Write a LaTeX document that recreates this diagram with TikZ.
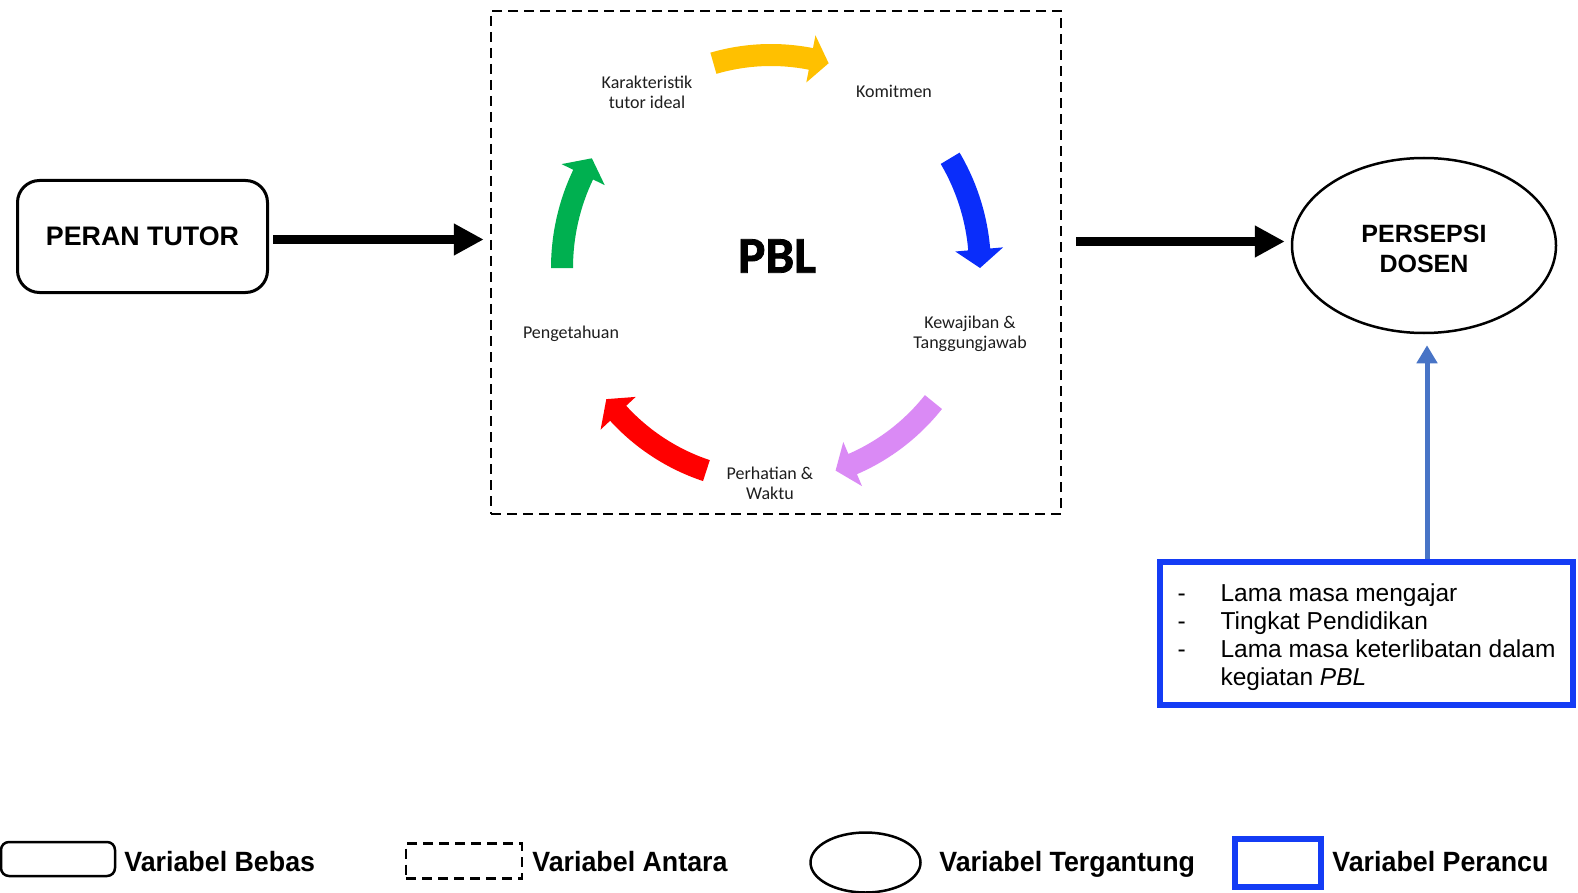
\documentclass[tikz,border=0pt]{standalone}
\usepackage{fontspec}
\setmainfont{Liberation Sans}
\newfontfamily\cyclefont{Carlito}
\newfontfamily\pblfont{Carlito}[FakeBold=1.5]
\usetikzlibrary{arrows.meta,shapes.geometric}

\definecolor{arrYellow}{RGB}{255,192,0}
\definecolor{arrBlue}{RGB}{10,45,250}
\definecolor{arrViolet}{RGB}{218,138,245}
\definecolor{arrRed}{RGB}{255,0,0}
\definecolor{arrGreen}{RGB}{0,176,80}
\definecolor{confBlue}{RGB}{20,60,245}
\definecolor{linkBlue}{RGB}{72,116,198}
\definecolor{labelGrey}{RGB}{30,30,30}

% curved block arrow of the PBL cycle: colour, start angle, tip angle
% (centre line on an ellipse of radii 209 and 213)
\newcommand\cyclearrow[3]{%
  \pgfmathsetmacro\caHead{#3-5}%
  \fill[#1] (#2:220 and 224) arc[start angle=#2, end angle=\caHead, x radius=220, y radius=224]
    -- (\caHead:233 and 237) -- (#3:209 and 213) -- (\caHead:185 and 189) -- (\caHead:198 and 202)
    arc[start angle=\caHead, end angle=#2, x radius=198, y radius=202] -- cycle;}

\begin{document}
\begin{tikzpicture}[x=0.5pt,y=-0.5pt,
  varbox/.style={draw, line width=1.5pt, rounded corners=11pt, minimum width=125pt,
    minimum height=56pt, inner sep=0pt, font=\fontsize{13.4}{16}\selectfont\bfseries},
  midbox/.style={draw, line width=1.25pt, dash pattern=on 5pt off 3pt, inner sep=0pt},
  depell/.style={draw, ellipse, line width=1.25pt, inner sep=0pt},
  confbox/.style={draw=confBlue, line width=3pt, inner sep=0pt},
  flow/.style={line width=4.5pt, -{Triangle[length=15pt,width=15pt]}},
  link/.style={draw=linkBlue, line width=2.5pt, -{Triangle[length=9pt,width=10pt]}},
  cyclelabel/.style={font=\cyclefont\fontsize{9}{10}\selectfont, text=labelGrey,
    align=center, inner sep=0pt},
  legendtext/.style={font=\fontsize{13.4}{16}\selectfont\bfseries, anchor=base west,
    inner sep=0pt, yscale=1.04},
]
\useasboundingbox (0,0) rectangle (1578,893);

% main variables
\node[varbox] (peran) at (142.5,236.5) {PERAN TUTOR};
\node[midbox, minimum width=285pt, minimum height=251.5pt] (pbl) at (776,262.5) {};
\node[depell, minimum width=132pt, minimum height=87.5pt] (dosen) at (1424,245.5) {};
\node[align=center, inner sep=0pt, font=\fontsize{12.5}{15}\selectfont\bfseries]
  (dosentext) at (1424,249) {PERSEPSI\\DOSEN};
\node[confbox, minimum width=206.5pt, minimum height=71.5pt] (conf) at (1366.5,633) {};
\node[inner sep=0pt, font=\fontsize{12.25}{14}\selectfont] (confitems) at (1366.5,638)
  {\begin{tabular}{@{}p{21.5pt}@{}l@{}}
   - & Lama masa mengajar\\
   - & Tingkat Pendidikan\\
   - & Lama masa keterlibatan dalam\\
     & kegiatan \textit{PBL}
   \end{tabular}};

% PBL cycle
\begin{scope}[shift={(771,268)}]
  \cyclearrow{arrYellow}{-106}{-74}
  \cyclearrow{arrBlue}{-31}{0}
  \cyclearrow{arrViolet}{39}{72}
  \cyclearrow{arrRed}{108}{142}
  \cyclearrow{arrGreen}{180}{211}
\end{scope}
\node[font=\pblfont\bfseries\fontsize{25.7}{28}\selectfont, inner sep=0pt] (pblname) at (777,256) {PBL};
\node[cyclelabel] (karakter) at (647,92) {Karakteristik\\tutor ideal};
\node[cyclelabel] (komit) at (894,91.6) {Komitmen};
\node[cyclelabel] (kewajiban) at (970,334) {Kewajiban \&\\Tanggungjawab};
\node[cyclelabel] (perhatian) at (770,483) {Perhatian \&\\Waktu};
\node[cyclelabel] (tahu) at (571,334) {Pengetahuan};

% connectors
\draw[flow, shorten <=2pt, shorten >=3pt] ([yshift=-1.5pt]peran.east) -- ([yshift=-1.5pt]peran.east -| pbl.west);
\draw[flow, shorten <=7pt, shorten >=3pt] ([yshift=2pt]pbl.east |- dosen.west) -- ([yshift=2pt]dosen.west);
\draw[link, shorten >=5.5pt] ([xshift=1.5pt]conf.north -| dosen.south) -- ([xshift=1.5pt]dosen.south);

% legend
\node[draw, line width=1.25pt, rounded corners=4pt, minimum width=57pt, minimum height=17pt,
  inner sep=0pt] (legvar) at (58,859) {};
\node[legendtext] (legvartext) at (124,871) {Variabel Bebas};
\node[midbox, minimum width=58pt, minimum height=17.5pt] (legmid) at (464,861) {};
\node[legendtext] (legmidtext) at (532,871) {Variabel Antara};
\node[depell, minimum width=55pt, minimum height=30pt] (legell) at (865.5,862.5) {};
\node[legendtext] (legelltext) at (939,871) {Variabel Tergantung};
\node[confbox, minimum width=43pt, minimum height=24pt] (legconf) at (1278,863) {};
\node[legendtext] (legconftext) at (1332,871) {Variabel Perancu};
\end{tikzpicture}
\end{document}
